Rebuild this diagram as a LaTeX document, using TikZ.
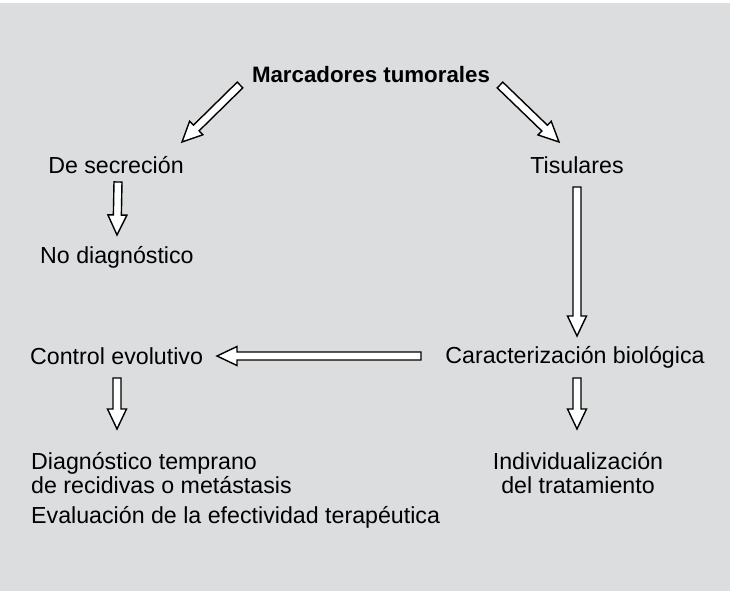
\documentclass[tikz,border=0pt]{standalone}
\usepackage{fontspec}
\setmainfont{Liberation Sans}
\usetikzlibrary{calc}
\definecolor{bg}{RGB}{220,221,223}
\begin{document}
\begin{tikzpicture}[x=1pt,y=-1pt,
  lbl/.style={inner sep=0pt, font=\fontsize{23.2}{23.5}\selectfont},
  ttl/.style={inner sep=0pt, font=\fontsize{22.3}{24}\selectfont\bfseries},
  blockarrow/.style={draw=black, fill=white, line width=1.4pt, line join=miter,
    to path={let \p1=(\tikztostart), \p2=(\tikztotarget),
      \n1={veclen(\x2-\x1,\y2-\y1)}, \n2={(\x2-\x1)/\n1}, \n3={(\y2-\y1)/\n1} in
      ({\x1-4*\n3},{\y1+4*\n2})
      -- ({\x2-20*\n2-4*\n3},{\y2-20*\n3+4*\n2})
      -- ({\x2-20*\n2-9.5*\n3},{\y2-20*\n3+9.5*\n2})
      -- (\p2)
      -- ({\x2-20*\n2+9.5*\n3},{\y2-20*\n3-9.5*\n2})
      -- ({\x2-20*\n2+4*\n3},{\y2-20*\n3-4*\n2})
      -- ({\x1+4*\n3},{\y1-4*\n2}) -- cycle}}]
\useasboundingbox (0,0) rectangle (730,594);
\fill[white] (0,0) rectangle (730,594);
\fill[bg] (0,3) rectangle (730,591);

\node[ttl, anchor=base] (title) at (371,82) {Marcadores tumorales};
\node[lbl, anchor=base] (sec) at (116,173) {De secreción};
\node[lbl, anchor=base] (tis) at (577,173) {Tisulares};
\node[lbl, anchor=base west] (nodiag) at (40,263) {No diagnóstico};
\node[lbl, anchor=base west] (ctrl) at (30,364) {Control evolutivo};
\node[lbl, anchor=base] (carac) at (575,363) {Caracterización biológica};
\node[lbl, anchor=base west, align=left] (diag) at (31,493) {Diagnóstico temprano\\de recidivas o metástasis};
\node[lbl, anchor=base west] (eval) at (31,523) {Evaluación de la efectividad terapéutica};
\node[lbl, anchor=base, align=center] (indiv) at (578,493) {Individualización\\del tratamiento};

\draw[blockarrow] ([shift={(-131,3)}]title.base) to ([shift={(66,-31)}]sec.base);
\draw[blockarrow] ([shift={(129,3)}]title.base) to ([shift={(-18,-31)}]tis.base);
\draw[blockarrow] ([shift={(78,-81)}]nodiag.base west) to ([shift={(77,-28)}]nodiag.base west);
\draw[blockarrow] ([shift={(0,14)}]tis.base) to ([shift={(2,-27)}]carac.base);
\draw[blockarrow] ([shift={(-154,-7)}]carac.base) to ([shift={(187,-8)}]ctrl.base west);
\draw[blockarrow] ([shift={(87,14)}]ctrl.base west) to ([shift={(86,-64)}]diag.base west);
\draw[blockarrow] ([shift={(2,15)}]carac.base) to ([shift={(-1,-64)}]indiv.base);
\end{tikzpicture}
\end{document}
